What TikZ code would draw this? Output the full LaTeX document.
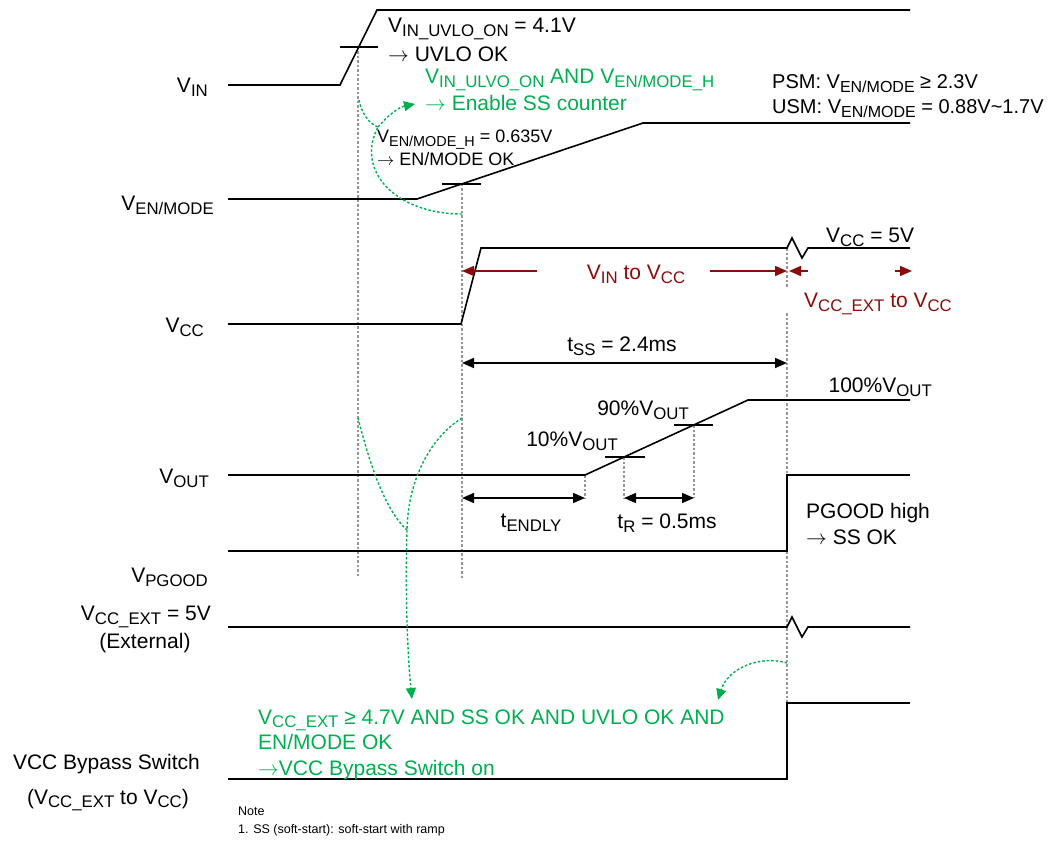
\documentclass[tikz,border=0pt]{standalone}
\usepackage{fontspec}
\setmainfont{Liberation Sans}
\usepackage{graphicx}
\usetikzlibrary{arrows.meta,positioning,calc}
\definecolor{okgreen}{RGB}{0,176,80}
\definecolor{pathred}{RGB}{140,10,10}
\definecolor{guide}{RGB}{150,150,150}
\newcommand{\sbs}[1]{\raisebox{-0.35ex}{\scalebox{0.8}{#1}}}
\newcommand{\toarrow}{$\rightarrow$}

\begin{document}
\begin{tikzpicture}[x=1pt, y=-1pt,
  every node/.style={font=\fontsize{21}{25}\selectfont, inner sep=0pt},
  sig/.style={line width=1.6pt},
  guideline/.style={guide, line width=1.4pt, dash pattern=on 2.5pt off 2pt},
  flow/.style={okgreen, line width=1.4pt, dash pattern=on 2.5pt off 2pt, -{Triangle[length=11pt,width=10pt]}},
  flowpart/.style={okgreen, line width=1.4pt, dash pattern=on 2.5pt off 2pt},
  span/.style={line width=1.6pt, {Triangle[length=12pt,width=10pt]}-{Triangle[length=12pt,width=10pt]}},
  redarr/.style={pathred, line width=1.6pt, -{Triangle[length=12pt,width=10pt]}},
  small/.style={font=\fontsize{18}{21}\selectfont},
  note/.style={font=\fontsize{12.5}{15}\selectfont}]
\useasboundingbox (0,0) rectangle (1051,842);
% ---- guide lines
\draw[guideline] (358,47) -- (358,577);
\draw[guideline] (462,184) -- (462,578);
\draw[guideline] (787,248) -- (787,287);
\draw[guideline] (787,313) -- (787,703);
\draw[guideline] (585,475) -- (585,498);
\draw[guideline] (624,457) -- (624,498);
\draw[guideline] (694,425) -- (694,498);
% ---- signal names
\node[anchor=east] (lvin) at (208,87) {V\sbs{IN}};
\node[anchor=east] (lven) at (214,205) {V\sbs{EN/MODE}};
\node[anchor=east] (lvcc) at (204,327) {V\sbs{CC}};
\node[anchor=east] (lvout) at (209,478) {V\sbs{OUT}};
\node[anchor=east] (lpg) at (208,577) {V\sbs{PGOOD}};
\node[anchor=east] (lext) at (211,617) {V\sbs{CC\_EXT} = 5V};
\node (lext2) at (145,643) {(External)};
\node[anchor=east] (lsw) at (200,764) {VCC Bypass Switch};
\node[anchor=east] (lsw2) at (189,800) {(V\sbs{CC\_EXT} to V\sbs{CC})};
% ---- waveforms
\draw[sig] (228,85) -- (340,85) -- (377,10) -- (910,10);
\draw[sig] (340,47) -- (378,47);
\draw[sig] (228,199) -- (417,199) -- (643,123) -- (910,123);
\draw[sig] (442,184) -- (481,184);
\draw[sig] (228,324) -- (461,324) -- (481,248) -- (787,248) -- (792,238) -- (802,258) -- (808,248) -- (910,248);
\draw[sig] (228,475) -- (585,475) -- (748,400) -- (910,400);
\draw[sig] (605,457) -- (645,457);
\draw[sig] (674,425) -- (713,425);
\draw[sig] (228,551) -- (787,551) -- (787,475) -- (910,475);
\draw[sig] (228,627) -- (787,627) -- (792,617) -- (802,637) -- (808,627) -- (910,627);
\draw[sig] (228,779) -- (787,779) -- (787,703) -- (910,703);
% ---- thresholds
\node[anchor=base west] (uvlo) at (388,33) {V\sbs{IN\_UVLO\_ON} = 4.1V};
\node[anchor=base west] (uvlook) at (388,62) {\toarrow{} UVLO OK};
\node[anchor=base west, small] (enh) at (377,143) {V\sbs{EN/MODE\_H} = 0.635V};
\node[anchor=base west, small] (enok) at (377,166) {\toarrow{} EN/MODE OK};
\node[anchor=base west, okgreen] (ssen) at (425,84) {V\sbs{IN\_ULVO\_ON} AND V\sbs{EN/MODE\_H}};
\node[anchor=base west, okgreen] (ssen2) at (425,111) {\toarrow{} Enable SS counter};
\node[anchor=base west, font=\fontsize{20}{24}\selectfont] (psm) at (772,89) {PSM: V\sbs{EN/MODE} ≥ 2.3V};
\node[anchor=base west, font=\fontsize{20}{24}\selectfont] (usm) at (772,114) {USM: V\sbs{EN/MODE} = 0.88V\textasciitilde 1.7V};
\node[anchor=base west] (vcc5) at (826,243) {V\sbs{CC} = 5V};
% ---- supply paths
\coordinate (vccA) at (462,271);
\coordinate (vccB) at (787,271);
\coordinate (vccC) at (789,271);
\coordinate (vccD) at (912,271);
\coordinate (vinL) at (537,271);
\coordinate (vinR) at (710,271);
\coordinate (extL) at (808,271);
\coordinate (extR) at (895,271);
\node[pathred] (vinvcc) at (636,274) {V\sbs{IN} to V\sbs{CC}};
\node[pathred] (extvcc) at (878,304) {V\sbs{CC\_EXT} to V\sbs{CC}};
\draw[redarr] (vinL) -- (vccA);
\draw[redarr] (vinR) -- (vccB);
\draw[redarr] (extL) -- (vccC);
\draw[redarr] (extR) -- (vccD);
% ---- timing
\coordinate (ssA) at (462,363);
\coordinate (ssB) at (787,363);
\draw[span] (ssA) -- (ssB);
\node (tss) at (622,346) {t\sbs{SS} = 2.4ms};
\coordinate (dlA) at (462,498);
\coordinate (dlB) at (585,498);
\draw[span] (dlA) -- (dlB);
\node (tdly) at (531,523) {t\sbs{ENDLY}};
\coordinate (trA) at (624,498);
\coordinate (trB) at (694,498);
\draw[span] (trA) -- (trB);
\node (tr) at (667,523) {t\sbs{R} = 0.5ms};
\node[anchor=east] (p10) at (618,441) {10\%V\sbs{OUT}};
\node[anchor=east] (p90) at (689,410) {90\%V\sbs{OUT}};
\node[anchor=east] (p100) at (932,387) {100\%V\sbs{OUT}};
\node[anchor=base west] (pgh) at (806,518) {PGOOD high};
\node[anchor=base west] (pgok) at (806,544) {\toarrow{} SS OK};
% ---- bypass condition
\node[anchor=base west, okgreen] (byp1) at (258,724) {V\sbs{CC\_EXT} ≥ 4.7V AND SS OK AND UVLO OK AND};
\node[anchor=base west, okgreen] (byp2) at (258,749) {EN/MODE OK};
\node[anchor=base west, okgreen] (byp3) at (258,775) {\toarrow VCC Bypass Switch on};
\node[anchor=base west, note] (nt) at (238,815) {Note};
\node[anchor=base west, note] (nt1) at (238,833) {1. SS (soft-start): soft-start with ramp};
% ---- green flow
\coordinate (uvA) at (359,100);
\coordinate (enA) at (462,214);
\coordinate (mgA) at (378,127);
\coordinate (tipA) at (415,104);
\draw[flowpart] (uvA) .. controls (362,115) and (370,124) .. (mgA);
\draw[flowpart] (enA) .. controls (395,214) and (355,170) .. (mgA);
\draw[flow] (mgA) .. controls (390,113) and (400,107) .. (tipA);
\coordinate (uvB) at (358,418);
\coordinate (enB) at (462,418);
\coordinate (mgB) at (407,530);
\coordinate (tipB) at (412,699);
\draw[flowpart] (uvB) .. controls (370,465) and (385,510) .. (mgB);
\draw[flowpart] (enB) .. controls (430,438) and (408,480) .. (mgB);
\draw[flow] (mgB) .. controls (405,600) and (408,660) .. (tipB);
\coordinate (extC) at (787,663);
\coordinate (tipC) at (718,700);
\draw[flow] (extC) .. controls (760,655) and (728,668) .. (tipC);
\end{tikzpicture}
\end{document}
